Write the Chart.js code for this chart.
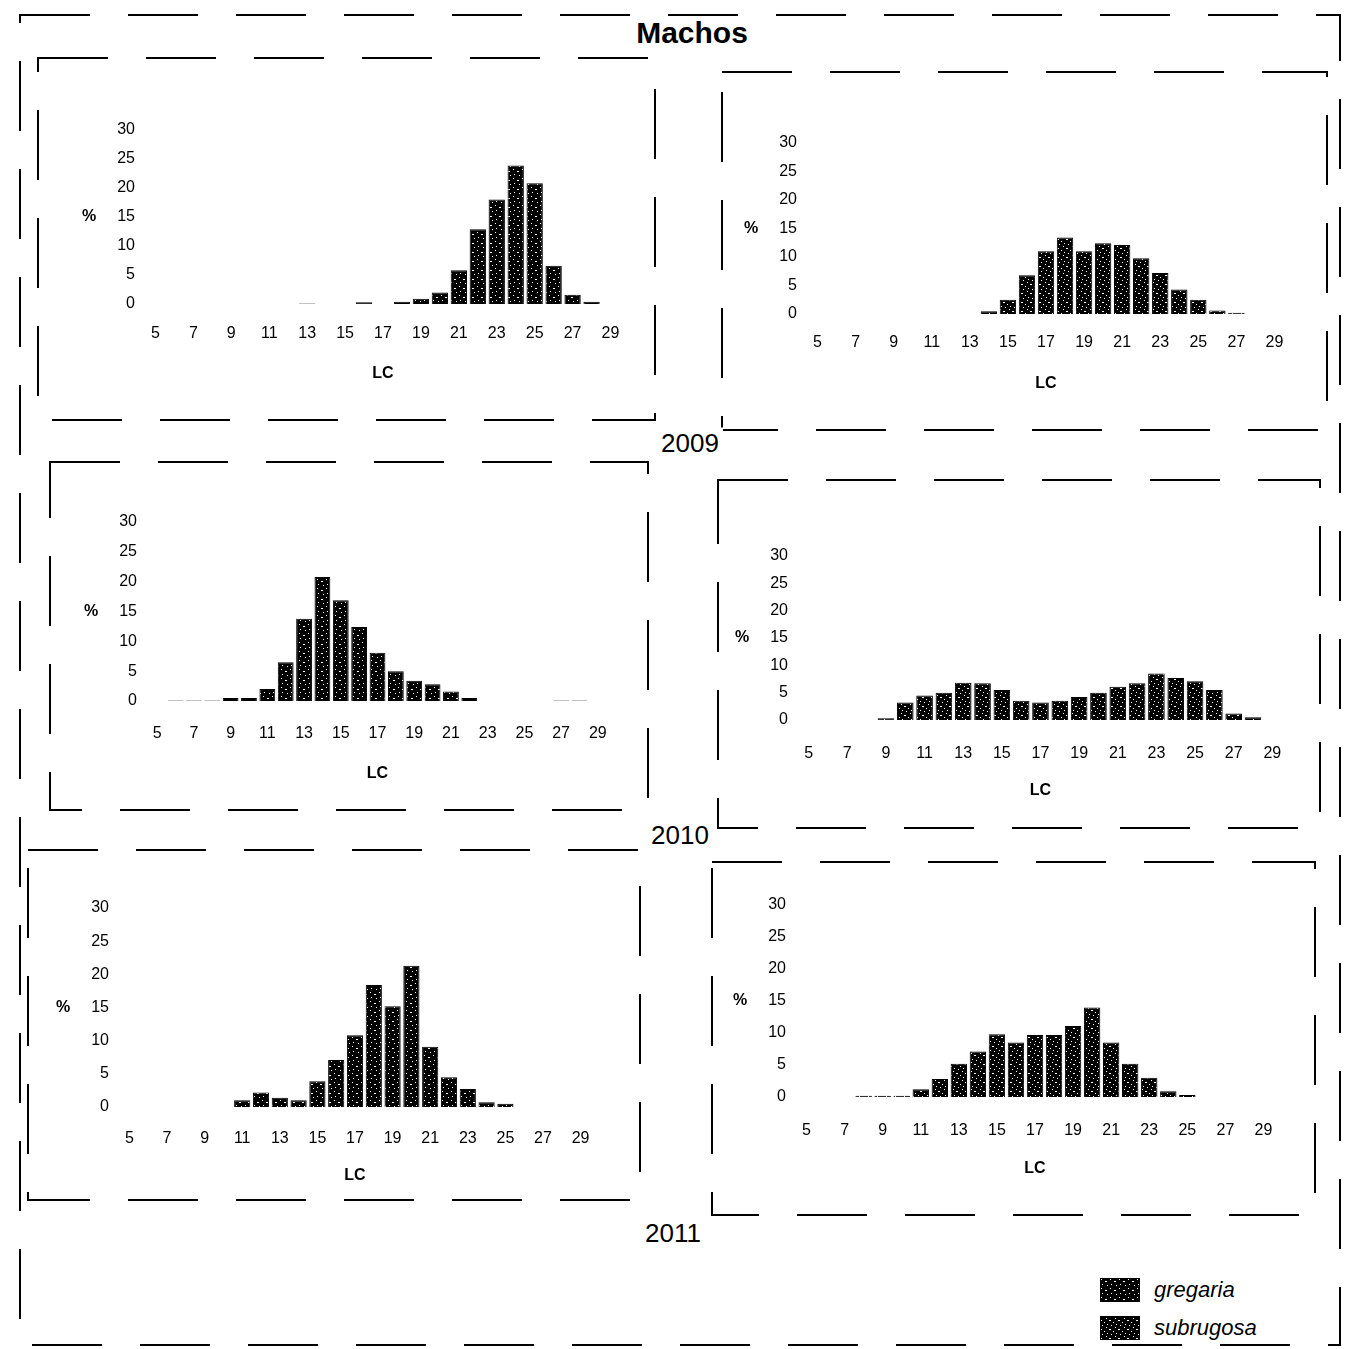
<!DOCTYPE html>
<html>
<head>
<meta charset="utf-8">
<title>Machos</title>
<script src="https://cdn.jsdelivr.net/npm/chart.js@4/dist/chart.umd.min.js"></script>
<style>
  body { margin: 0; background: #fff; }
  #fig { position: relative; width: 1351px; height: 1349px; overflow: hidden; background: #fff;
         font-family: "Liberation Sans", Arial, sans-serif; color: #000; }
  #fig canvas.panel { position: absolute; }
  .lbl { position: absolute; transform: translate(-50%, -50%); white-space: nowrap; }
  #marcos { position: absolute; left: 0; top: 0; }
  .leg { position: absolute; display: flex; align-items: center; font-style: italic; font-size: 22px; }
  .leg canvas { margin-right: 14px; }
</style>
</head>
<body>
<div id="fig">
  <svg id="marcos" width="1351" height="1349">
    <g fill="none" stroke="#000" stroke-width="2" stroke-dasharray="70 38">
      <rect x="20" y="15" width="1320" height="1330"></rect>
      <rect x="38" y="58" width="617" height="362"></rect>
      <rect x="722" y="72" width="605" height="358"></rect>
      <rect x="50" y="462" width="598" height="348"></rect>
      <rect x="718" y="480" width="602" height="348"></rect>
      <rect x="28" y="850" width="612" height="350"></rect>
      <rect x="712" y="862" width="603" height="353"></rect>
    </g>
  </svg>
  <div class="lbl" style="left:692px; top:33px; font-size:30px; font-weight:bold; background:#fff; padding:0 6px;">Machos</div>
  <div class="lbl" style="left:690px; top:443px; font-size:26px; background:#fff; padding:0 4px;">2009</div>
  <div class="lbl" style="left:680px; top:835px; font-size:26px; background:#fff; padding:0 4px;">2010</div>
  <div class="lbl" style="left:673px; top:1233px; font-size:26px; background:#fff; padding:0 4px;">2011</div>
  <div class="leg" style="left:1100px; top:1277px;"><canvas id="swG" width="40" height="24"></canvas>gregaria</div>
  <div class="leg" style="left:1100px; top:1315px;"><canvas id="swS" width="40" height="24"></canvas>subrugosa</div>
</div>
<script>
// Clases de longitud de caparazón (LC)
const lcLabels = [5, 6, 7, 8, 9, 10, 11, 12, 13, 14, 15, 16, 17, 18, 19, 20, 21, 22, 23, 24, 25, 26, 27, 28, 29];

// Porcentajes por clase
const gregaria2009  = [0, 0, 0, 0, 0, 0, 0, 0, 0.1, 0, 0, 0.3, 0, 0.4, 0.9, 2, 5.8, 12.9, 18, 23.9, 20.8, 6.6, 1.6, 0.4, 0];
const subrugosa2009 = [0, 0, 0, 0, 0, 0, 0, 0, 0, 0.5, 2.5, 6.8, 11, 13.4, 11, 12.4, 12.1, 9.8, 7.2, 4.3, 2.5, 0.6, 0.2, 0, 0];
const gregaria2010  = [0, 0.1, 0.1, 0.1, 0.5, 0.5, 2, 6.5, 13.8, 20.8, 16.9, 12.4, 8.1, 5, 3.4, 2.8, 1.6, 0.5, 0, 0, 0, 0, 0.1, 0.1, 0];
const subrugosa2010 = [0, 0, 0, 0, 0.3, 3.2, 4.5, 5, 6.8, 6.7, 5.5, 3.5, 3.2, 3.5, 4.2, 5, 6.1, 6.7, 8.5, 7.7, 7.1, 5.5, 1.2, 0.5, 0];
const gregaria2011  = [0, 0, 0, 0, 0, 0, 1, 2.2, 1.4, 1, 3.9, 7.1, 10.8, 18.4, 15.2, 21.3, 9.1, 4.5, 2.7, 0.7, 0.5, 0, 0, 0, 0];
const subrugosa2011 = [0, 0, 0, 0.2, 0.2, 0.2, 1.2, 2.8, 5.2, 7.1, 9.8, 8.5, 9.7, 9.7, 11.1, 14, 8.5, 5.2, 3, 0.9, 0.3, 0, 0, 0, 0];

Chart.defaults.font.family = '"Liberation Sans", Arial, sans-serif';
Chart.defaults.color = '#000';

// Relleno negro con puntos blancos (como la trama del original)
function speckle(dots) {
  const c = document.createElement('canvas');
  c.width = 9; c.height = 9;
  const g = c.getContext('2d');
  g.fillStyle = '#000';
  g.fillRect(0, 0, 9, 9);
  g.fillStyle = '#fff';
  dots.forEach(d => g.fillRect(d[0], d[1], d[2] || 1, 1));
  return g.createPattern(c, 'repeat');
}
const patG = speckle([[1, 1], [5, 3, 2], [2, 6], [7, 7]]);
const patS = speckle([[2, 0], [6, 2], [0, 4, 2], [4, 6], [7, 8]]);

// El "%" va a la izquierda de los ticks, a la altura del 15
const pctPlugin = {
  id: 'pct',
  afterDraw(chart) {
    const { ctx, chartArea, scales } = chart;
    ctx.save();
    ctx.font = 'bold 16px "Liberation Sans", Arial, sans-serif';
    ctx.fillStyle = '#000';
    ctx.textAlign = 'center';
    ctx.textBaseline = 'middle';
    ctx.fillText('%', chartArea.left - 57, scales.y.getPixelForValue(15));
    ctx.restore();
  }
};

const panels = [
  { data: gregaria2009,  serie: 'gregaria',  pat: patG, x0: 155, x1: 610,  yTop: 130, yBot: 304,  tickPad: 20, lcGap: 69 },
  { data: subrugosa2009, serie: 'subrugosa', pat: patS, x0: 818, x1: 1275, yTop: 143, yBot: 314,  tickPad: 19, lcGap: 69 },
  { data: gregaria2010,  serie: 'gregaria',  pat: patG, x0: 157, x1: 598,  yTop: 522, yBot: 701,  tickPad: 23, lcGap: 72 },
  { data: subrugosa2010, serie: 'subrugosa', pat: patS, x0: 809, x1: 1273, yTop: 556, yBot: 720,  tickPad: 24, lcGap: 70 },
  { data: gregaria2011,  serie: 'gregaria',  pat: patG, x0: 129, x1: 580,  yTop: 908, yBot: 1107, tickPad: 22, lcGap: 68 },
  { data: subrugosa2011, serie: 'subrugosa', pat: patS, x0: 807, x1: 1264, yTop: 905, yBot: 1097, tickPad: 24, lcGap: 71 }
];

const YW = 75, PAD_T = 25, PAD_R = 30;

panels.forEach(p => {
  const unit = (p.x1 - p.x0) / (lcLabels.length - 1);
  const areaLeft = p.x0 - unit / 2;
  const areaRight = p.x1 + unit / 2;
  const XH = p.lcGap + 14;

  const cv = document.createElement('canvas');
  cv.className = 'panel';
  cv.width = Math.round(YW + (areaRight - areaLeft) + PAD_R);
  cv.height = Math.round(PAD_T + (p.yBot - p.yTop) + XH);
  cv.style.left = Math.round(areaLeft - YW) + 'px';
  cv.style.top = Math.round(p.yTop - PAD_T) + 'px';
  document.getElementById('fig').appendChild(cv);

  new Chart(cv, {
    type: 'bar',
    data: {
      labels: lcLabels,
      datasets: [{
        label: p.serie,
        data: p.data,
        backgroundColor: p.pat,
        borderColor: '#000',
        borderWidth: 1,
        barPercentage: 0.86,
        categoryPercentage: 1
      }]
    },
    options: {
      responsive: false,
      animation: false,
      devicePixelRatio: 1,
      layout: { padding: { top: PAD_T, right: PAD_R, left: 0, bottom: 0 } },
      plugins: { legend: { display: false }, tooltip: { enabled: false } },
      scales: {
        x: {
          grid: { display: false, drawTicks: false },
          border: { display: false },
          ticks: {
            autoSkip: false,
            maxRotation: 0,
            padding: p.tickPad,
            font: { size: 16 },
            // solo las clases impares llevan etiqueta
            callback: (v, i) => (lcLabels[i] % 2 ? lcLabels[i] : '')
          },
          title: { display: true, text: 'LC', font: { size: 16, weight: 'bold' }, padding: { top: 0, bottom: 4 } },
          afterFit: s => { s.height = XH; }
        },
        y: {
          min: 0,
          max: 30,
          grid: { display: false, drawTicks: false },
          border: { display: false },
          ticks: { stepSize: 5, padding: 11, font: { size: 16 } },
          afterFit: s => { s.width = YW; }
        }
      }
    },
    plugins: [pctPlugin]
  });
});

// Muestras de la leyenda
[['swG', patG], ['swS', patS]].forEach(([id, pat]) => {
  const g = document.getElementById(id).getContext('2d');
  g.fillStyle = pat;
  g.fillRect(1, 1, 38, 22);
  g.strokeStyle = '#000';
  g.lineWidth = 1;
  g.strokeRect(0.5, 0.5, 39, 23);
});
</script>
</body>
</html>
